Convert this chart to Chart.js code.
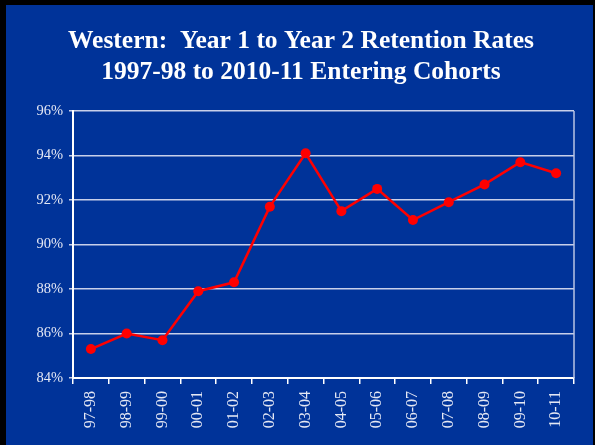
<!DOCTYPE html>
<html>
<head>
<meta charset="utf-8">
<script src="https://cdn.jsdelivr.net/npm/chart.js@4"></script>
<style>
  html, body { margin: 0; padding: 0; background: #000; }
  #wrap { width: 595px; height: 445px; }
</style>
</head>
<body>
<div id="wrap"><canvas id="grafico" width="595" height="445"></canvas></div>
<script>
// datos del grafico
const cohortes = ['97-98', '98-99', '99-00', '00-01', '01-02', '02-03', '03-04',
                  '04-05', '05-06', '06-07', '07-08', '08-09', '09-10', '10-11'];
const retencion = [85.3, 86.0, 85.7, 87.9, 88.3, 91.7, 94.1,
                   91.5, 92.5, 91.1, 91.9, 92.7, 93.7, 93.2];
const tituloLineas = ['Western:  Year 1 to Year 2 Retention Rates',
                      '1997-98 to 2010-11 Entering Cohorts'];

const azul = '#003399';
const serif = '"Liberation Serif", "Times New Roman", serif';

// fondo negro con el panel azul, titulo y borde derecho del area
const fondo = {
    id: 'fondo',
    beforeDraw(chart) {
        const c = chart.ctx;
        c.save();
        c.fillStyle = '#000';
        c.fillRect(0, 0, chart.width, chart.height);
        c.fillStyle = azul;
        c.fillRect(6, 5, chart.width - 8, chart.height - 5);
        // titulo en dos lineas
        c.fillStyle = '#ffffff';
        c.font = 'bold 25.5px ' + serif;
        c.textAlign = 'center';
        c.textBaseline = 'alphabetic';
        c.fillText(tituloLineas[0], 301, 48);
        c.fillText(tituloLineas[1], 301, 79);
        c.restore();
    },
    beforeDatasetsDraw(chart) {
        const a = chart.chartArea;
        const c = chart.ctx;
        c.save();
        c.strokeStyle = '#b8c4e4';
        c.lineWidth = 1.5;
        c.beginPath();
        c.moveTo(a.right, a.top);
        c.lineTo(a.right, a.bottom);
        c.stroke();
        c.restore();
    }
};

const ctx = document.getElementById('grafico').getContext('2d');
const grafico = new Chart(ctx, {
    type: 'line',
    data: {
        labels: cohortes,
        datasets: [{
            data: retencion,
            borderColor: '#ff0000',
            backgroundColor: '#ff0000',
            borderWidth: 2.5,
            pointRadius: 5,
            pointBackgroundColor: '#ff0000',
            pointBorderWidth: 0,
            tension: 0
        }]
    },
    options: {
        responsive: false,
        animation: false,
        layout: { padding: { left: 6, right: 21, top: 111, bottom: 0 } },
        plugins: {
            legend: { display: false },
            tooltip: { enabled: false },
            title: { display: false }
        },
        scales: {
            x: {
                offset: true,
                grid: {
                    offset: true,
                    drawOnChartArea: false,
                    drawTicks: true,
                    tickLength: 6,
                    color: '#ffffff',
                    lineWidth: 1.5
                },
                border: { color: '#ffffff', width: 2 },
                ticks: {
                    color: '#e4e8f4',
                    font: { family: serif, size: 16 },
                    minRotation: 90,
                    maxRotation: 90,
                    padding: 7
                },
                afterFit(scale) { scale.height = 67; }
            },
            y: {
                min: 84,
                max: 96,
                grid: {
                    color: '#c8d0ea',
                    lineWidth: 1.5,
                    drawTicks: true,
                    tickLength: 4
                },
                border: { color: '#ffffff', width: 2 },
                ticks: {
                    stepSize: 2,
                    color: '#e4e8f4',
                    font: { family: serif, size: 14.5 },
                    padding: 6,
                    callback: v => v + '%'
                },
                afterFit(scale) { scale.width = 67; }
            }
        }
    },
    plugins: [fondo]
});
</script>
</body>
</html>
